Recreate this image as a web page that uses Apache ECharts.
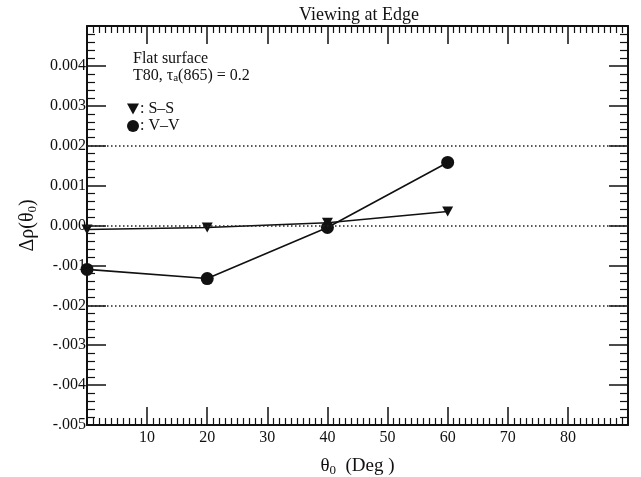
<!DOCTYPE html>
<html>
<head>
<meta charset="utf-8">
<script src="https://cdn.jsdelivr.net/npm/echarts@6/dist/echarts.min.js"></script>
<style>
  html, body { margin: 0; padding: 0; background: #fff; }
  #chart { width: 641px; height: 477px; }
</style>
</head>
<body>
<div id="chart"></div>
<script>
// solar zenith angles (deg)
var angles = [0, 20, 40, 60];
// S-S and V-V differences
var ssValues = [-0.0001, -0.00005, 0.00007, 0.00035];
var vvValues = [-0.0011, -0.00133, -0.00005, 0.00158];
// dotted reference levels
var refLevels = [0.002, 0.0, -0.002];

var FONT = 'Liberation Serif';
var triDown = 'path://M0,0 L10,0 L5,9 Z';

function yLabel(v) {
    var k = Math.round(v * 1000);
    if (k === 5) return '';
    if (k >= 0) return (k / 1000).toFixed(3);
    return '-.00' + (-k);
}
function xLabel(v) {
    return (v === 0 || v === 90) ? '' : v;
}

var tickX = { show: true, inside: true, length: 18, lineStyle: { color: '#111', width: 1.5 } };
var minorX = { show: true, splitNumber: 10, length: 7, lineStyle: { color: '#111', width: 1.2 } };
var tickY = { show: true, inside: true, length: 19, lineStyle: { color: '#111', width: 1.5 } };
var minorY = { show: true, splitNumber: 5, length: 8, lineStyle: { color: '#111', width: 1.2 } };
var axLine = { show: true, onZero: false, lineStyle: { color: '#111', width: 2 } };

var myChart = echarts.init(document.getElementById('chart'));
myChart.setOption({
    animation: false,
    backgroundColor: '#fff',
    textStyle: { fontFamily: FONT },
    title: {
        text: 'Viewing at Edge',
        left: 354, top: 1, textAlign: 'center',
        textStyle: { fontFamily: FONT, fontSize: 18, fontWeight: 'normal', color: '#111' }
    },
    legend: {
        orient: 'vertical',
        left: 122, top: 96,
        itemWidth: 12, itemHeight: 12, itemGap: 1,
        textStyle: { fontFamily: FONT, fontSize: 16, color: '#111', padding: [0, 0, 0, -4] },
        formatter: function (name) { return ': ' + name; },
        data: [
            { name: 'S\u2013S', icon: triDown },
            { name: 'V\u2013V', icon: 'circle' }
        ]
    },
    graphic: [{
        type: 'text', left: 133, top: 50,
        style: {
            text: 'Flat surface\nT80, {g|\u03c4}{s|a}(865) = 0.2',
            font: '16px ' + FONT, fill: '#111', lineHeight: 17,
            rich: {
                g: { fontFamily: FONT, fontSize: 16 },
                s: { fontFamily: FONT, fontSize: 11, verticalAlign: 'bottom', padding: [7, 0, 0, 0] }
            }
        }
    }],
    grid: { left: 87, right: 13, top: 26, bottom: 52, outerBoundsMode: 'none', containLabel: false },
    xAxis: [{
        type: 'value', min: 0, max: 90, interval: 10, position: 'bottom',
        name: '{t|\u03b8}{s|0}{t|  (Deg )}',
        nameLocation: 'middle', nameGap: 30,
        nameTextStyle: {
            rich: {
                t: { fontFamily: FONT, fontSize: 19, color: '#111' },
                s: { fontFamily: FONT, fontSize: 13, color: '#111', padding: [9, 0, 0, 0] }
            }
        },
        axisLine: axLine, axisTick: tickX, minorTick: minorX,
        axisLabel: { formatter: xLabel, fontFamily: FONT, fontSize: 16, color: '#111', margin: 5 },
        splitLine: { show: false }
    }, {
        type: 'value', min: 0, max: 90, interval: 10, position: 'top',
        axisLine: axLine, axisTick: tickX, minorTick: minorX,
        axisLabel: { show: false }, splitLine: { show: false }
    }],
    yAxis: [{
        type: 'value', min: -0.005, max: 0.005, interval: 0.001, position: 'left',
        name: '{t|\u0394\u03c1(\u03b8}{s|0}{t|)}',
        nameLocation: 'middle', nameGap: 48, nameRotate: 90,
        nameTextStyle: {
            rich: {
                t: { fontFamily: FONT, fontSize: 20, color: '#111' },
                s: { fontFamily: FONT, fontSize: 13, color: '#111', padding: [9, 0, 0, 0] }
            }
        },
        axisLine: axLine, axisTick: tickY, minorTick: minorY,
        axisLabel: { formatter: yLabel, fontFamily: FONT, fontSize: 16, color: '#111', margin: 1 },
        splitLine: { show: false }
    }, {
        type: 'value', min: -0.005, max: 0.005, interval: 0.001, position: 'right',
        axisLine: axLine, axisTick: tickY, minorTick: minorY,
        axisLabel: { show: false }, splitLine: { show: false }
    }],
    series: [{
        name: 'S\u2013S', type: 'line',
        data: angles.map(function (a, i) { return [a, ssValues[i]]; }),
        symbol: triDown, symbolSize: [11, 10],
        itemStyle: { color: '#111' },
        lineStyle: { color: '#111', width: 1.6 },
        z: 3,
        markLine: {
            silent: true, symbol: 'none',
            label: { show: false },
            lineStyle: { type: [1.5, 2.5], color: '#222', width: 1.5 },
            data: refLevels.map(function (v) {
                return [{ coord: [0, v] }, { coord: [90, v] }];
            })
        }
    }, {
        name: 'V\u2013V', type: 'line',
        data: angles.map(function (a, i) { return [a, vvValues[i]]; }),
        symbol: 'circle', symbolSize: 13,
        itemStyle: { color: '#111' },
        lineStyle: { color: '#111', width: 1.6 }
    }]
});
</script>
</body>
</html>
